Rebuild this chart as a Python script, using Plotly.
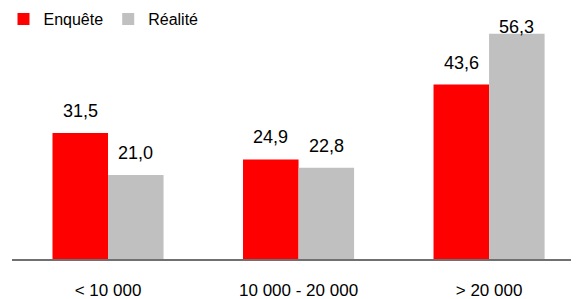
import plotly.graph_objects as go

categories = ["< 10 000", "10 000 - 20 000", "> 20 000"]
enquete = [31.5, 24.9, 43.6]
realite = [21.0, 22.8, 56.3]
series_names = ["Enquête", "Réalité"]
colors = ["#FF0000", "#C0C0C0"]

FONT = "Liberation Sans, Arial, sans-serif"
Y_MAX = 62.75

fig = go.Figure()
for name, vals, col in zip(series_names, [enquete, realite], colors):
    fig.add_trace(go.Bar(x=categories, y=vals, name=name, marker_color=col,
                         marker_line_width=0))

def fmt(v):
    return f"{v:.1f}".replace(".", ",")

bar_half = 27.75
label_gap = 5.5        # data units above the bar top (label centre)
label_ceiling = 58.1   # labels are pushed down when they would leave the chart
for vals, shift in [(enquete, -bar_half), (realite, bar_half)]:
    for c, v in zip(categories, vals):
        fig.add_annotation(x=c, y=min(v + label_gap, label_ceiling), text=fmt(v),
                           showarrow=False, xshift=shift, yanchor="middle",
                           font=dict(family=FONT, size=18, color="#000000"))

# page has an 8px body margin: figure is sized to fill the rest of the window
fig.update_layout(
    width=571, height=291,
    margin=dict(l=4, r=0, t=0, b=40, autoexpand=False),
    paper_bgcolor="white", plot_bgcolor="white",
    barmode="group", bargap=0.417, bargroupgap=0,
    font=dict(family=FONT, size=17, color="#000000"),
    showlegend=True,
    legend=dict(orientation="h", x=-0.015, y=1.024, xanchor="left", yanchor="top",
                font=dict(family=FONT, size=16), itemwidth=30,
                tracegroupgap=0, bgcolor="rgba(0,0,0,0)"),
)
fig.update_xaxes(range=[-0.504, 2.472], showline=True, linecolor="#707070",
                 linewidth=1.5, ticks="", ticklabelstandoff=15, automargin=False,
                 showgrid=False, zeroline=False)
fig.update_yaxes(range=[0, Y_MAX], visible=False, showgrid=False, zeroline=False,
                 automargin=False)

fig.write_html("out.html")
